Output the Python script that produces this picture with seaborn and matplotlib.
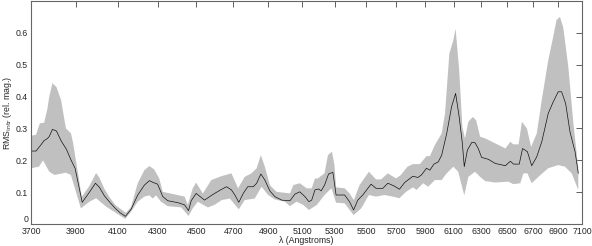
import numpy as np
import pandas as pd
import matplotlib
matplotlib.use("Agg")
import matplotlib.pyplot as plt
import seaborn as sns
from matplotlib.ticker import FixedLocator, FixedFormatter, NullLocator

# mean intrinsic RMS curve
wl_mean = [3700, 3722, 3740, 3758, 3772, 3781, 3795, 3813, 3835, 3858, 3880, 3898,
           3931, 3965, 3993, 4012, 4036, 4059, 4088, 4112, 4137, 4165, 4198, 4231,
           4256, 4273, 4298, 4324, 4350, 4402, 4437, 4458, 4472, 4498, 4543, 4589,
           4630, 4663, 4690, 4709, 4731, 4756, 4781, 4813, 4832, 4856, 4879, 4908,
           4937, 4977, 5026, 5056, 5085, 5116, 5140, 5157, 5177, 5199, 5215, 5236,
           5261, 5288, 5308, 5362, 5393, 5419, 5446, 5478, 5532, 5565, 5610, 5643,
           5687, 5721, 5756, 5813, 5847, 5872, 5907, 5931, 5959, 5990, 6014, 6050,
           6085, 6114, 6140, 6163, 6177, 6200, 6232, 6256, 6280, 6305, 6356, 6408,
           6485, 6523, 6548, 6592, 6618, 6656, 6690, 6730, 6770, 6822, 6862, 6903,
           6931, 6964, 7000, 7042, 7069]
rms_mean = [0.229, 0.229, 0.245, 0.262, 0.268, 0.275, 0.297, 0.292, 0.26, 0.235, 0.20, 0.175,
            0.068, 0.10, 0.128, 0.115, 0.088, 0.07, 0.049, 0.035, 0.024, 0.046, 0.091, 0.122,
            0.136, 0.131, 0.125, 0.086, 0.073, 0.067, 0.06, 0.042, 0.073, 0.096, 0.075, 0.093,
            0.107, 0.117, 0.107, 0.091, 0.068, 0.096, 0.117, 0.117, 0.128, 0.157, 0.138, 0.104,
            0.086, 0.075, 0.073, 0.094, 0.101, 0.086, 0.07, 0.075, 0.107, 0.11, 0.104, 0.122,
            0.157, 0.162, 0.091, 0.091, 0.07, 0.044, 0.075, 0.091, 0.125, 0.112, 0.112, 0.128,
            0.119, 0.109, 0.13, 0.150, 0.146, 0.154, 0.175, 0.169, 0.188, 0.195, 0.216, 0.284,
            0.368, 0.41, 0.336, 0.253, 0.18, 0.232, 0.256, 0.255, 0.237, 0.209, 0.203, 0.19,
            0.183, 0.197, 0.188, 0.188, 0.237, 0.227, 0.183, 0.211, 0.258, 0.347, 0.383, 0.415,
            0.415, 0.378, 0.289, 0.227, 0.159]

# upper edge of the scatter band
wl_up = [3700, 3722, 3739, 3758, 3772, 3781, 3795, 3813, 3834, 3856, 3879, 3889,
         3929, 3965, 3996, 4012, 4036, 4059, 4088, 4112, 4140, 4165, 4198, 4231,
         4256, 4281, 4306, 4324, 4400, 4437, 4454, 4480, 4498, 4534, 4580, 4634,
         4690, 4727, 4764, 4802, 4832, 4856, 4879, 4908, 4947, 5026, 5046, 5085,
         5127, 5157, 5177, 5195, 5236, 5257, 5282, 5298, 5308, 5362, 5393, 5421,
         5457, 5518, 5565, 5598, 5643, 5698, 5731, 5776, 5813, 5861, 5907, 5931,
         5966, 6014, 6038, 6069, 6098, 6114, 6140, 6163, 6182, 6207, 6240, 6264,
         6294, 6331, 6383, 6408, 6485, 6523, 6546, 6587, 6613, 6652, 6685, 6730,
         6770, 6822, 6862, 6889, 6917, 6944, 6986, 7028, 7069]
rms_up = [0.277, 0.28, 0.316, 0.318, 0.36, 0.40, 0.442, 0.43, 0.389, 0.30, 0.285, 0.254,
          0.085, 0.12, 0.16, 0.145, 0.11, 0.085, 0.06, 0.048, 0.035, 0.054, 0.128, 0.169,
          0.182, 0.171, 0.143, 0.101, 0.091, 0.086, 0.06, 0.112, 0.130, 0.096, 0.138, 0.15,
          0.159, 0.112, 0.148, 0.159, 0.175, 0.216, 0.18, 0.122, 0.101, 0.096, 0.122, 0.128,
          0.112, 0.112, 0.143, 0.143, 0.159, 0.216, 0.227, 0.185, 0.115, 0.112, 0.096, 0.075,
          0.122, 0.164, 0.14, 0.14, 0.159, 0.143, 0.154, 0.18, 0.188, 0.188, 0.213, 0.213,
          0.248, 0.284, 0.347, 0.535, 0.577, 0.613, 0.483, 0.305, 0.268, 0.321, 0.336, 0.326,
          0.274, 0.269, 0.258, 0.253, 0.237, 0.258, 0.25, 0.25, 0.321, 0.30, 0.242, 0.284,
          0.389, 0.514, 0.587, 0.64, 0.65, 0.618, 0.493, 0.316, 0.175]

# lower edge of the scatter band
wl_lo = [3700, 3735, 3753, 3781, 3804, 3856, 3879, 3925, 3965, 3996, 4045, 4088,
         4137, 4165, 4198, 4231, 4256, 4273, 4290, 4315, 4349, 4420, 4458, 4480,
         4507, 4561, 4597, 4636, 4681, 4731, 4764, 4821, 4860, 4898, 4937, 4996,
         5026, 5066, 5106, 5140, 5189, 5236, 5279, 5308, 5362, 5419, 5468, 5518,
         5565, 5620, 5676, 5721, 5766, 5813, 5838, 5884, 5919, 5966, 6014, 6050,
         6098, 6133, 6177, 6207, 6256, 6294, 6331, 6408, 6508, 6546, 6600, 6625,
         6656, 6690, 6743, 6822, 6903, 6958, 7014, 7069]
rms_lo = [0.175, 0.18, 0.2, 0.164, 0.154, 0.161, 0.154, 0.049, 0.07, 0.081, 0.054, 0.036,
          0.016, 0.039, 0.07, 0.086, 0.090, 0.080, 0.090, 0.07, 0.056, 0.052, 0.025, 0.049,
          0.07, 0.052, 0.06, 0.075, 0.080, 0.046, 0.075, 0.080, 0.117, 0.091, 0.077, 0.07,
          0.056, 0.07, 0.06, 0.044, 0.06, 0.091, 0.112, 0.067, 0.065, 0.028, 0.049, 0.091,
          0.086, 0.091, 0.086, 0.081, 0.101, 0.115, 0.107, 0.128, 0.117, 0.138, 0.138, 0.159,
          0.18, 0.164, 0.09, 0.148, 0.164, 0.148, 0.135, 0.13, 0.133, 0.125, 0.128, 0.159,
          0.159, 0.128, 0.148, 0.175, 0.185, 0.18, 0.159, 0.107]

x_ticks = list(range(3700, 7101, 200))
y_ticks = [0, 0.1, 0.2, 0.3, 0.4, 0.5, 0.6]
y_tick_labels = ["0", "0.1", "0.2", "0.3", "0.4", "0.5", "0.6"]

sns.set_style("white")
plt.rcParams['font.family'] = ['Liberation Sans', 'DejaVu Sans']

fig = plt.figure(figsize=(5.92, 2.46), dpi=100)
ax = fig.add_axes([31 / 592, 22 / 246, 551 / 592, 223 / 246])

# grey band
band_x = np.concatenate([wl_up, wl_lo[::-1]])
band_y = np.concatenate([rms_up, rms_lo[::-1]])
ax.fill(band_x, band_y, color='#c0c0c0', linewidth=0, zorder=1)

df = pd.DataFrame({'wl': wl_mean, 'rms': rms_mean})
sns.lineplot(data=df, x='wl', y='rms', color='#111111', linewidth=0.5, ax=ax, zorder=2)

ax.set_xscale('log')
ax.set_xlim(3700, 7100)
ax.set_ylim(0, 0.7)
ax.xaxis.set_major_locator(FixedLocator(x_ticks))
ax.xaxis.set_major_formatter(FixedFormatter([str(t) for t in x_ticks]))
ax.xaxis.set_minor_locator(NullLocator())
ax.yaxis.set_major_locator(FixedLocator(y_ticks))
ax.yaxis.set_major_formatter(FixedFormatter(y_tick_labels))

ax.tick_params(axis='both', direction='in', length=4, width=0.6, color='#444444',
               labelsize=6.3, top=True, right=True, pad=2)
ax.tick_params(axis='x', pad=2.5)
for s in ax.spines.values():
    s.set_color('#666666')
    s.set_linewidth(0.8)

# lift the "0" label a little so it sits above "3700"
ax.get_yticklabels()[0].set_verticalalignment('bottom')

ax.set_xlabel('λ (Angstroms)', fontsize=6.3, labelpad=0)
ax.set_ylabel('RMS$_{\\rm intr}$ (rel. mag.)', fontsize=6.3, labelpad=1.5)

fig.savefig('out.png', dpi=100)
